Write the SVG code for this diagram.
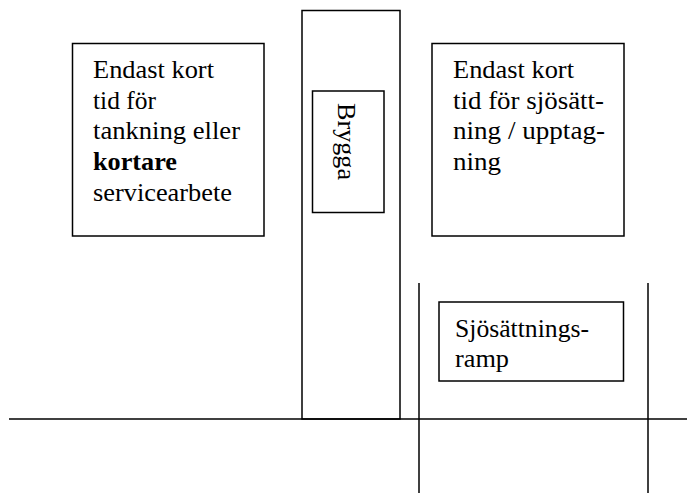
<svg xmlns="http://www.w3.org/2000/svg" width="687" height="493" viewBox="0 0 687 493">
<style>
.b{fill:#fff;stroke:#000;stroke-width:1.5}
.l{stroke:#000;stroke-width:1.5;fill:none}
.t{font-family:"Liberation Serif","Times New Roman",serif;font-size:25px;fill:#000}
.bold{font-weight:bold}
</style>
<rect width="687" height="493" fill="#fff"/>
<g id="left-box">
<rect class="b" x="72.5" y="43.5" width="191.5" height="192.5"/>
<text class="t" x="93" y="78" textLength="121" lengthAdjust="spacingAndGlyphs">Endast kort</text>
<text class="t" x="93" y="108.7" textLength="63" lengthAdjust="spacingAndGlyphs">tid för</text>
<text class="t" x="93" y="139.4" textLength="147" lengthAdjust="spacingAndGlyphs">tankning eller</text>
<text class="t bold" x="93" y="170.1" textLength="84" lengthAdjust="spacingAndGlyphs">kortare</text>
<text class="t" x="93" y="200.8" textLength="139" lengthAdjust="spacingAndGlyphs">servicearbete</text>
</g>
<g id="pier">
<rect class="b" x="302" y="10.5" width="98" height="408.5"/>
</g>
<g id="brygga">
<rect class="b" x="312.5" y="91" width="71.5" height="121.5"/>
<text class="t" transform="translate(337.5,103) rotate(90)" textLength="77" lengthAdjust="spacingAndGlyphs">Brygga</text>
</g>
<g id="right-box">
<rect class="b" x="432" y="43.5" width="192" height="192.5"/>
<text class="t" x="453" y="78" textLength="121" lengthAdjust="spacingAndGlyphs">Endast kort</text>
<text class="t" x="453" y="108.7" textLength="151" lengthAdjust="spacingAndGlyphs">tid för sjösätt-</text>
<text class="t" x="453" y="139.4" textLength="152" lengthAdjust="spacingAndGlyphs">ning / upptag-</text>
<text class="t" x="453" y="170.1" textLength="48" lengthAdjust="spacingAndGlyphs">ning</text>
</g>
<g id="ramp">
<rect class="b" x="439" y="302" width="184.5" height="79"/>
<text class="t" x="455" y="336.7" textLength="134" lengthAdjust="spacingAndGlyphs">Sjösättnings-</text>
<text class="t" x="455" y="366.7" textLength="54" lengthAdjust="spacingAndGlyphs">ramp</text>
</g>
<g id="connectors">
<line class="l" x1="9" y1="419" x2="687" y2="419"/>
<line class="l" x1="419" y1="283" x2="419" y2="493"/>
<line class="l" x1="648" y1="283" x2="648" y2="493"/>
</g>
</svg>
